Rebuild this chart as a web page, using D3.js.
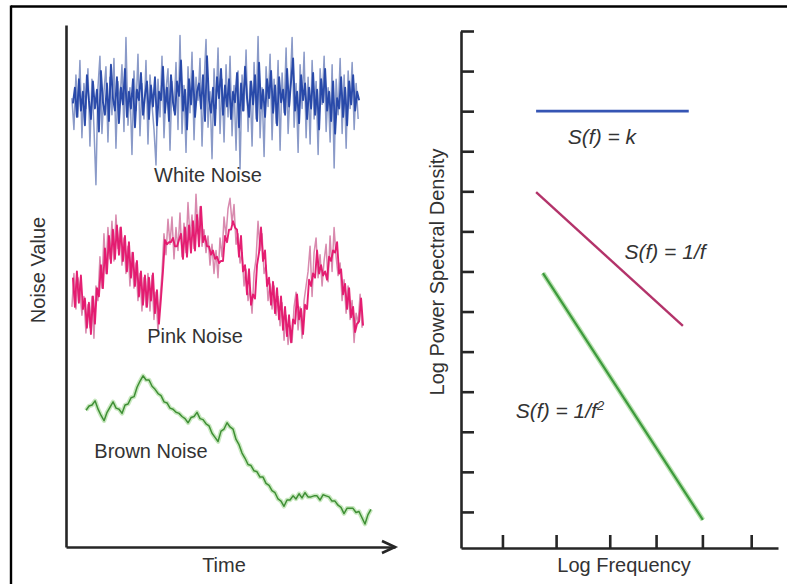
<!DOCTYPE html>
<html>
<head>
<meta charset="utf-8">
<script src="https://cdn.jsdelivr.net/npm/d3@7"></script>
<style>
  html, body { margin: 0; padding: 0; background: #fff; }
  svg { display: block; font-family: "Liberation Sans", Arial, Helvetica, sans-serif; }
</style>
</head>
<body>
<svg id="chart" width="787" height="584"></svg>
<script>
// ---------------- DATA ----------------
// Left panel: noise time series (noise value units, time 0..100)
const whiteLight = [
  430,400,452,412,466,392,444,420,458,384,
  448,402,347,440,470,396,436,460,388,450,
  414,468,382,446,426,462,398,488,404,440,
  376,456,418,472,394,444,410,466,386,452,
  424,400,366,448,412,470,392,438,458,380,
  446,418,464,400,490,396,442,378,460,416,
  474,390,450,428,468,384,444,486,402,436,
  372,458,420,478,396,448,388,462,412,470,
  394,442,380,456,362,452,418,476,398,446,
  384,464,410,489,392,440,374,460,422,472,
  390,448,406,466,380,454,416,478,396,438,
  488,402,444,378,462,420,474,392,450,386,
  466,410,446,376,458,424,470,398,440,388,
  462,363,448,414,468,396,452,382,456,420,
  464,400,444,410
];
const whiteDark = [
  425,440,412,448,418,436,404,452,428,410,
  446,420,438,398,456,426,414,444,408,462,
  430,418,450,406,440,424,458,412,436,420,
  448,402,438,428,454,414,432,446,410,442,
  422,450,404,436,428,460,416,440,408,452,
  426,414,446,432,466,418,438,400,448,424,
  456,412,436,444,420,452,408,470,428,416,
  440,404,450,430,458,414,442,422,448,410,
  436,426,454,402,444,418,460,430,412,446,
  424,452,408,464,420,438,412,448,430,456,
  416,442,404,450,426,438,414,458,422,446,
  468,418,436,406,452,428,444,410,440,420,
  454,414,438,400,448,426,458,418,436,408,
  446,396,430,420,450,412,440,404,446,424,
  452,418,436,428
];
const pinkLight = [
  230,262,228,258,246,222,240,205,232,210,
  240,200,250,236,278,248,300,262,306,276,
  312,274,318,286,306,270,296,262,288,250,
  282,248,272,236,262,226,258,230,262,226,
  260,218,244,206,236,262,300,280,314,290,
  316,276,306,284,320,278,310,282,330,296,
  318,286,338,300,326,288,304,282,298,270,
  290,262,284,258,296,278,316,298,324,334,
  310,328,290,300,272,282,250,266,236,248,
  224,262,276,312,284,300,262,270,236,252,
  228,250,222,240,212,234,198,222,194,212,
  196,230,244,208,230,200,236,250,264,288,
  240,282,296,258,280,250,274,290,254,298,
  264,306,278,260,272,236,256,224,250,218,
  236,196,224,214,242,210
];
const pinkDark = [
  258,230,264,234,260,228,238,210,234,204,
  240,214,248,240,270,248,286,262,298,272,
  304,276,308,280,306,274,298,264,292,258,
  282,250,274,240,264,232,260,230,258,236,
  262,224,246,214,238,264,294,290,292,292,
  296,288,288,294,300,276,306,278,308,282,
  312,284,318,288,326,292,298,288,288,280,
  284,276,278,272,274,274,298,292,304,304,
  312,306,304,278,298,264,270,242,266,232,
  242,238,270,282,306,274,284,250,258,232,
  254,224,248,218,240,208,230,202,222,196,
  218,214,242,218,228,204,232,228,256,250,
  262,258,284,262,270,260,264,256,278,274,
  284,282,292,262,266,242,252,228,248,220,
  230,206,214,216,238,212
];
const brown = [
  131,135,136,140,132,126,121,129,134,139,
  133,132,128,136,137,143,144,153,159,164,
  160,160,154,151,147,145,139,138,133,132,
  129,128,125,123,119,124,125,129,123,122,
  118,116,109,105,101,111,113,119,115,113,
  103,98,90,85,79,78,73,72,67,67,
  61,59,54,52,46,44,39,45,45,49,
  46,51,47,52,48,48,49,49,45,50,
  49,48,44,44,40,38,32,37,37,37,
  33,34,28,22,31,36
];
// time spans (start, end) of each recorded series on the Time axis (0..100)
const whiteLightSpan = [1.8, 88.8];
const whiteDarkSpan  = [2.1, 89.1];
const pinkLightSpan  = [1.8, 90.0];
const pinkDarkSpan   = [2.1, 90.3];
const brownSpan      = [6.1, 92.7];
const noiseLabels = ["White Noise", "Pink Noise", "Brown Noise"];

// Right panel: log-log power spectral density lines [logFreq, logPSD]
const whitePSD = [[1.54, 10.0], [4.67, 10.0]];
const pinkPSD  = [[1.54, 7.98], [4.55, 4.64]];
const brownPSD = [[1.68, 5.96], [4.96, -0.2]];
const psdTicks  = [0,1,2,3,4,5,6,7,8,9,10,11,12];
const freqTicks = [0.85, 1.95, 3.05, 4.0, 4.95, 5.95];

// ---------------- DRAW ----------------
const svg = d3.select("#chart");
const axisColor = "#262626";
const textColor = "#333";

// outer frame (top and left edges)
svg.append("line").attr("x1", 11).attr("x2", 787).attr("y1", 6.5).attr("y2", 6.5)
  .attr("stroke", "#000").attr("stroke-width", 2.4);
svg.append("line").attr("x1", 11).attr("x2", 11).attr("y1", 5.5).attr("y2", 584)
  .attr("stroke", "#000").attr("stroke-width", 2.4);

// ---- Left panel ----
const tScale = d3.scaleLinear().domain([0, 100]).range([66, 395]);
const vScale = d3.scaleLinear().domain([0, 500]).range([547, 25]);

const line = d3.line().x(d => tScale(d.t)).y(d => vScale(d.v));
function series(values, span) {
  const n = values.length;
  return values.map((v, i) => ({ t: span[0] + (span[1] - span[0]) * i / (n - 1), v }));
}

const gSeries = svg.append("g");
function drawSeries(values, span, color, width, opacity) {
  gSeries.append("path").datum(series(values, span))
    .attr("d", line).attr("fill", "none")
    .attr("stroke", color).attr("stroke-width", width)
    .attr("stroke-opacity", opacity).attr("stroke-linejoin", "round");
}
drawSeries(whiteLight, whiteLightSpan, "#8a9ac8", 1.5, 1);
drawSeries(whiteDark, whiteDarkSpan, "#2243a6", 1.9, 0.95);
drawSeries(pinkLight, pinkLightSpan, "#d88aae", 1.5, 1);
drawSeries(pinkDark, pinkDarkSpan, "#e4146c", 1.9, 0.95);
drawSeries(brown, brownSpan, "#c2e6b8", 4.5, 0.9);
drawSeries(brown, brownSpan, "#3f8f35", 1.5, 1);

// left axes
const gLY = svg.append("g").attr("transform", "translate(66,0)")
  .call(d3.axisLeft(vScale).tickValues([]).tickSizeOuter(0));
const gLX = svg.append("g").attr("transform", "translate(0,547)")
  .call(d3.axisBottom(tScale).tickValues([]).tickSizeOuter(0));
[gLY, gLX].forEach(g => g.select(".domain").attr("stroke", axisColor).attr("stroke-width", 2.6));
svg.append("path")
  .attr("d", `M${tScale(100) - 13},541 L${tScale(100)},547 L${tScale(100) - 13},553`)
  .attr("fill", "none").attr("stroke", axisColor).attr("stroke-width", 2.6)
  .attr("stroke-linejoin", "miter");

// left labels
const labelFont = 20;
svg.append("text").attr("x", 208).attr("y", 182).attr("text-anchor", "middle")
  .attr("font-size", labelFont).attr("fill", textColor).text(noiseLabels[0]);
svg.append("text").attr("x", 195).attr("y", 343).attr("text-anchor", "middle")
  .attr("font-size", labelFont).attr("fill", textColor).text(noiseLabels[1]);
svg.append("text").attr("x", 151).attr("y", 458).attr("text-anchor", "middle")
  .attr("font-size", labelFont).attr("fill", textColor).text(noiseLabels[2]);
svg.append("text").attr("x", 224).attr("y", 572).attr("text-anchor", "middle")
  .attr("font-size", labelFont).attr("fill", textColor).text("Time");
svg.append("text").attr("transform", "translate(45,270) rotate(-90)").attr("text-anchor", "middle")
  .attr("font-size", labelFont).attr("fill", textColor).text("Noise Value");

// ---- Right panel ----
const fScale = d3.scaleLinear().domain([0, 6.5]).range([461, 778]);
const pScale = d3.scaleLinear().domain([-0.9, 12]).range([548, 31]);

const gRY = svg.append("g").attr("transform", "translate(461,0)")
  .call(d3.axisRight(pScale).tickValues(psdTicks).tickSize(13).tickSizeOuter(0).tickFormat(""));
const gRX = svg.append("g").attr("transform", "translate(0,548)")
  .call(d3.axisTop(fScale).tickValues(freqTicks).tickSize(13).tickSizeOuter(0).tickFormat(""));
[gRY, gRX].forEach(g => {
  g.select(".domain").attr("stroke", axisColor).attr("stroke-width", 2.6);
  g.selectAll(".tick line").attr("stroke", axisColor).attr("stroke-width", 2.6);
});

const psdLine = d3.line().x(d => fScale(d[0])).y(d => pScale(d[1]));
const gPSD = svg.append("g");
gPSD.append("path").datum(brownPSD).attr("d", psdLine).attr("fill", "none")
  .attr("stroke", "#b9e2b0").attr("stroke-width", 5);
gPSD.append("path").datum(brownPSD).attr("d", psdLine).attr("fill", "none")
  .attr("stroke", "#3d9a3d").attr("stroke-width", 2.2);
gPSD.append("path").datum(pinkPSD).attr("d", psdLine).attr("fill", "none")
  .attr("stroke", "#b3336a").attr("stroke-width", 2.4);
gPSD.append("path").datum(whitePSD).attr("d", psdLine).attr("fill", "none")
  .attr("stroke", "#3555b4").attr("stroke-width", 2.6);

// equations
const eqFont = 21;
const eq1 = svg.append("text").attr("x", 602).attr("y", 144).attr("text-anchor", "middle")
  .attr("font-size", eqFont).attr("font-style", "italic").attr("fill", textColor);
eq1.text("S(f) = k");
const eq2 = svg.append("text").attr("x", 665).attr("y", 259).attr("text-anchor", "middle")
  .attr("font-size", eqFont).attr("font-style", "italic").attr("fill", textColor);
eq2.text("S(f) = 1/f");
const eq3 = svg.append("text").attr("x", 560).attr("y", 418).attr("text-anchor", "middle")
  .attr("font-size", eqFont).attr("font-style", "italic").attr("fill", textColor);
eq3.append("tspan").text("S(f) = 1/f");
eq3.append("tspan").attr("dy", -8).attr("font-size", 13).text("2");

svg.append("text").attr("x", 624).attr("y", 572).attr("text-anchor", "middle")
  .attr("font-size", labelFont).attr("fill", textColor).text("Log Frequency");
svg.append("text").attr("transform", "translate(444,272) rotate(-90)").attr("text-anchor", "middle")
  .attr("font-size", labelFont).attr("fill", textColor).text("Log Power Spectral Density");
</script>
</body>
</html>
